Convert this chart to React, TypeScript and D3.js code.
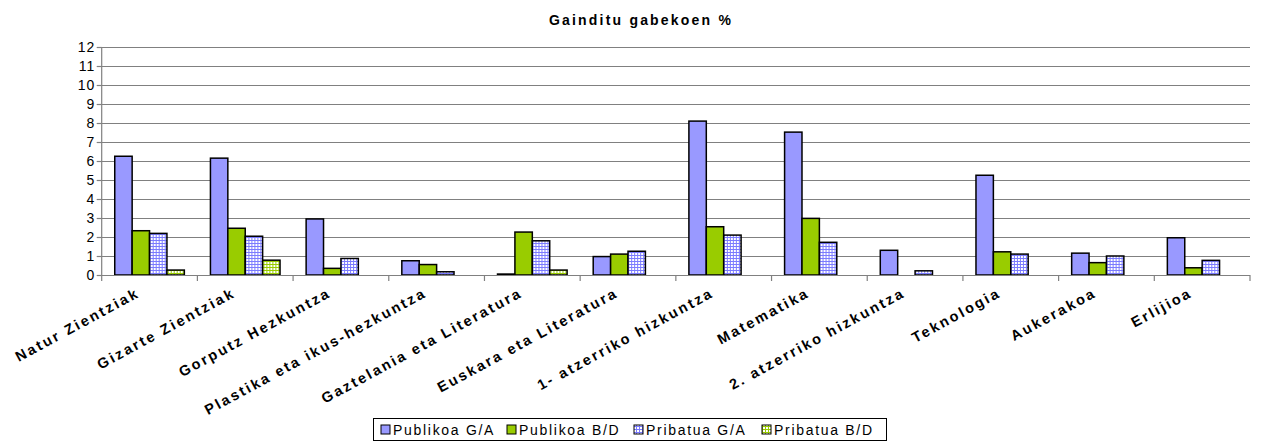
import React from "react";
import * as d3 from "d3";

const categories = [
  "Natur Zientziak",
  "Gizarte Zientziak",
  "Gorputz Hezkuntza",
  "Plastika eta ikus-hezkuntza",
  "Gaztelania eta Literatura",
  "Euskara eta Literatura",
  "1- atzerriko hizkuntza",
  "Matematika",
  "2. atzerriko hizkuntza",
  "Teknologia",
  "Aukerakoa",
  "Erlijioa",
];
const publikoaGA = [6.25, 6.15, 2.95, 0.75, 0.05, 0.97, 8.1, 7.52, 1.3, 5.25, 1.15, 1.96];
const publikoaBD = [2.33, 2.46, 0.35, 0.55, 2.26, 1.1, 2.54, 2.98, 0, 1.22, 0.65, 0.38];
const pribatuaGA = [2.19, 2.04, 0.87, 0.17, 1.8, 1.25, 2.1, 1.72, 0.22, 1.1, 1.0, 0.77];
const pribatuaBD = [0.26, 0.78, 0, 0, 0.26, 0, 0, 0, 0, 0, 0, 0];
const seriesNames = ["Publikoa G/A", "Publikoa B/D", "Pribatua G/A", "Pribatua B/D"];
const yTicks = [0, 1, 2, 3, 4, 5, 6, 7, 8, 9, 10, 11, 12];
const title = "Gainditu gabekoen %";

const W = 1261;
const H = 447;
const left = 101.7;
const right = 1250;
const top = 47;
const bottom = 275;

const fills = ["#9999FF", "#99CC00", "url(#patBlue)", "url(#patGreen)"];

export default function App() {
  const series = [publikoaGA, publikoaBD, pribatuaGA, pribatuaBD];
  const x = d3.scaleBand<string>().domain(categories).range([left, right]).paddingInner(0).paddingOuter(0);
  const y = d3.scaleLinear().domain([0, 12]).range([bottom, top]);
  const bw = x.bandwidth() / 5.5;
  const inner = d3
    .scaleBand<number>()
    .domain([0, 1, 2, 3])
    .range([(x.bandwidth() * 0.75) / 5.5, x.bandwidth() - (x.bandwidth() * 0.75) / 5.5])
    .padding(0);
  const font = "Arial, 'Liberation Sans', Helvetica, sans-serif";
  const legendX = [381, 507, 634, 762];
  return (
    <svg width={W} height={H} style={{ position: "absolute", left: 0, top: 0 }} fontFamily={font}>
      <defs>
        <pattern id="patBlue" width={3} height={3} patternUnits="userSpaceOnUse">
          <rect width={3} height={3} fill="#ffffff" />
          <rect width={3} height={1} fill="#7b7bff" />
          <rect width={1} height={3} fill="#7b7bff" />
        </pattern>
        <pattern id="patGreen" width={3} height={3} patternUnits="userSpaceOnUse">
          <rect width={3} height={3} fill="#ffffff" />
          <rect width={3} height={1} fill="#99CC00" />
          <rect width={1} height={3} fill="#99CC00" />
        </pattern>
      </defs>
      <rect width={W} height={H} fill="#ffffff" />
      <text x={641} y={25} textAnchor="middle" fontSize={14} fontWeight="bold" letterSpacing={2.2}>
        {title}
      </text>
      {/* grid */}
      {yTicks.map((t) => (
        <g key={t}>
          {t > 0 && (
            <line x1={left} x2={right} y1={Math.round(y(t)) + 0.5} y2={Math.round(y(t)) + 0.5} stroke="#808080" strokeWidth={1.2} />
          )}
          <line x1={left - 5} x2={left} y1={Math.round(y(t)) + 0.5} y2={Math.round(y(t)) + 0.5} stroke="#808080" strokeWidth={1.2} />
          <text x={95} y={y(t)} dy="0.36em" textAnchor="end" fontSize={14} letterSpacing={0.8}>
            {t}
          </text>
        </g>
      ))}
      {/* bars */}
      {categories.map((c, i) => (
        <g key={c} transform={`translate(${x(c)},0)`}>
          {series.map((s, j) =>
            s[i] > 0 ? (
              <rect
                key={j}
                x={inner(j)}
                y={y(s[i])}
                width={bw}
                height={bottom - y(s[i])}
                fill={fills[j]}
                stroke="#000"
                strokeWidth={1.5}
              />
            ) : null
          )}
        </g>
      ))}
      {/* axes */}
      <line x1={left} x2={left} y1={top} y2={bottom} stroke="#808080" strokeWidth={1.2} />
      <line x1={left} x2={right} y1={bottom + 0.5} y2={bottom + 0.5} stroke="#808080" strokeWidth={1.2} />
      {categories.map((c) => (
        <line key={c} x1={x(c)} x2={x(c)} y1={bottom} y2={bottom + 6} stroke="#808080" strokeWidth={1.2} />
      ))}
      <line x1={right} x2={right} y1={bottom} y2={bottom + 6} stroke="#808080" strokeWidth={1.2} />
      {/* category labels */}
      {categories.map((c) => {
        const cx = (x(c) as number) + x.bandwidth() / 2 - 9;
        const cy = 296;
        return (
          <text
            key={c}
            x={cx}
            y={cy}
            textAnchor="end"
            fontSize={14.5}
            fontWeight="bold"
            letterSpacing={2.3}
            transform={`rotate(-28.5, ${cx}, ${cy})`}
          >
            {c}
          </text>
        );
      })}
      {/* legend */}
      <rect x={373.5} y={418.5} width={513} height={22} fill="#fff" stroke="#000" strokeWidth={1} />
      {seriesNames.map((n, j) => (
        <g key={n}>
          <rect x={legendX[j]} y={425} width={9} height={9} fill={fills[j]} stroke="#000" strokeWidth={1} />
          <text x={legendX[j] + 12} y={434.5} fontSize={14} letterSpacing={1.7}>
            {n}
          </text>
        </g>
      ))}
    </svg>
  );
}
